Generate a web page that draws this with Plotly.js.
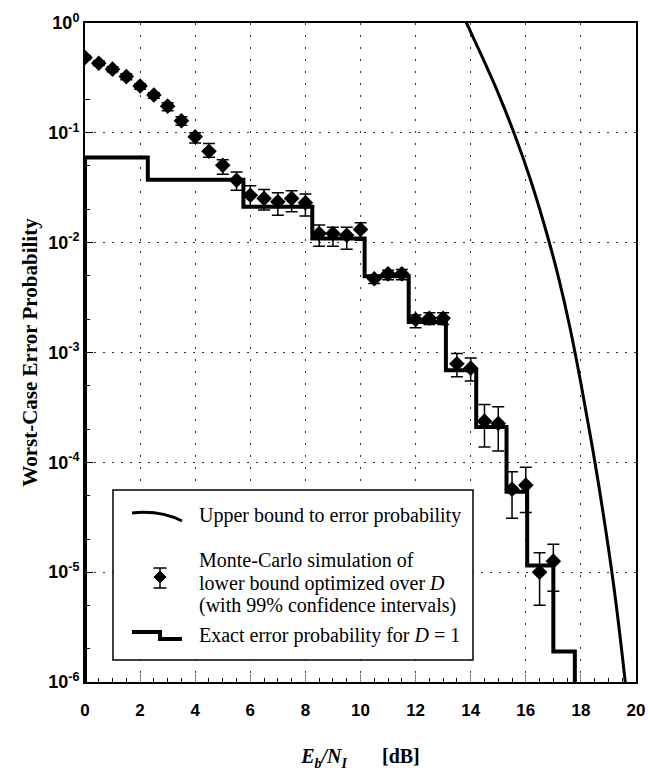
<!DOCTYPE html>
<html><head><meta charset="utf-8">
<script src="https://cdn.plot.ly/plotly-3.0.1.min.js"></script>
<style>html,body{margin:0;padding:0;background:#fff}#chart{width:648px;height:772px}</style>
</head><body><div id="chart"></div>
<script>
// Monte-Carlo simulation points (Eb/NI in dB) with 99% confidence bounds
const mcX  = [0,0.5,1,1.5,2,2.5,3,3.5,4,4.5,5,5.5,6,6.5,7,7.5,8,8.5,9,9.5,10,10.5,11,11.5,12,12.5,13,13.5,14,14.5,15,15.5,16,16.5,17];
const mcY  = [0.485,0.43,0.38,0.325,0.267,0.221,0.175,0.129,0.092,0.068,0.0506,0.037,0.027,0.0253,0.0236,0.0253,0.0231,0.0121,0.0121,0.0117,0.0132,0.0047,0.0052,0.0052,0.002,0.00205,0.00205,7.9e-4,7.2e-4,2.37e-4,2.26e-4,5.7e-5,6.2e-5,1.0e-5,1.26e-5];
const mcHi = [0.505,0.45,0.40,0.345,0.28,0.232,0.188,0.14,0.1,0.08,0.057,0.044,0.033,0.0305,0.0285,0.0297,0.0277,0.0145,0.0138,0.0138,0.0152,0.00505,0.0056,0.0057,0.00219,0.0023,0.0023,9.8e-4,8.9e-4,3.36e-4,3.2e-4,8.2e-5,9.0e-5,1.5e-5,1.8e-5];
const mcLo = [0.465,0.41,0.36,0.305,0.25,0.206,0.159,0.117,0.081,0.06,0.042,0.030,0.021,0.0198,0.0178,0.0191,0.0175,0.0093,0.0093,0.0087,0.0105,0.00425,0.0046,0.0046,0.00168,0.0018,0.0018,6.0e-4,5.5e-4,1.38e-4,1.27e-4,3.1e-5,3.5e-5,5.0e-6,6.7e-6];

// Exact error probability for D = 1 (staircase)
const stepX = [0,0,2.28,5.75,8.25,10.15,11.75,13.1,14.2,15.3,16.05,17.0,17.78];
const stepY = [1e-7,0.0595,0.0374,0.0212,0.0109,0.00494,0.0019,6.9e-4,2.1e-4,5.4e-5,1.15e-5,1.9e-6,1e-7];

// Upper bound to error probability
const ubX = [13.7,13.85,14.4,15.0,15.6,16.2,16.8,17.2,17.6,18.0,18.4,18.8,19.2,19.6,19.75];
const ubY = [1.2,1.0,0.501,0.229,0.0955,0.0355,0.0112,0.00468,0.0017,5.25e-4,1.45e-4,3.55e-5,7.24e-6,1.05e-6,4.5e-7];

const xTickVals = [0,2,4,6,8,10,12,14,16,18,20];
const yTickVals = [1,0.1,0.01,0.001,1e-4,1e-5,1e-6];
const yTickText = ['10<sup>0</sup>','10<sup>-1</sup>','10<sup>-2</sup>','10<sup>-3</sup>','10<sup>-4</sup>','10<sup>-5</sup>','10<sup>-6</sup>'];

const legendLines = ['Upper bound to error probability','Monte-Carlo simulation of','lower bound optimized over <i>D</i>','(with 99% confidence intervals)','Exact error probability for <i>D</i> = 1'];

// layout geometry (pixels)
const W = 648, H = 772, mL = 85, mR = 12, mT = 23, mB = 90;
const pw = W - mL - mR, ph = H - mT - mB;
const px = x => (x - mL) / pw;
const py = y => (H - mB - y) / ph;

const traces = [
  {x: ubX, y: ubY, mode: 'lines', line: {color: 'black', width: 3, shape: 'spline', smoothing: 1}, showlegend: false, hoverinfo: 'skip'},
  {x: stepX, y: stepY, mode: 'lines', line: {color: 'black', width: 4, shape: 'hv'}, showlegend: false},
  {x: mcX, y: mcY, mode: 'markers', marker: {symbol: 'diamond', size: 12, color: 'black'},
   error_y: {type: 'data', symmetric: false,
     array: mcHi.map((h, i) => h - mcY[i]),
     arrayminus: mcY.map((y, i) => y - mcLo[i]),
     color: 'black', thickness: 1.5, width: 6},
   showlegend: false}
];

const serif = 'Liberation Serif, Times New Roman, serif';
const sans = 'Liberation Sans, Arial, Helvetica, sans-serif';

const shapes = [
  {type: 'rect', xref: 'paper', yref: 'paper', x0: px(113), x1: px(473), y0: py(660), y1: py(490),
   line: {color: 'black', width: 1.5}, fillcolor: 'white', layer: 'above'},
  {type: 'path', xref: 'paper', yref: 'paper', layer: 'above', line: {color: 'black', width: 3},
   path: `M ${px(132)},${py(513)} Q ${px(160)},${py(510)} ${px(182)},${py(521)}`},
  {type: 'path', xref: 'paper', yref: 'paper', layer: 'above', line: {color: 'black', width: 1.5},
   path: `M ${px(160)},${py(568)} L ${px(160)},${py(588)} M ${px(153.5)},${py(568)} L ${px(166.5)},${py(568)} M ${px(153.5)},${py(588)} L ${px(166.5)},${py(588)}`},
  {type: 'path', xref: 'paper', yref: 'paper', layer: 'above', line: {color: 'black', width: 1}, fillcolor: 'black',
   path: `M ${px(160)},${py(571)} L ${px(166)},${py(577)} L ${px(160)},${py(583)} L ${px(154)},${py(577)} Z`},
  {type: 'path', xref: 'paper', yref: 'paper', layer: 'above', line: {color: 'black', width: 4},
   path: `M ${px(132)},${py(632)} L ${px(160)},${py(632)} L ${px(160)},${py(639)} L ${px(182)},${py(639)}`}
];

const legY = [515, 560, 583, 605, 635];
const annotations = legendLines.map((t, i) => ({
  xref: 'paper', yref: 'paper', x: px(197), y: py(legY[i]), xanchor: 'left', yanchor: 'middle',
  text: t, showarrow: false, font: {family: serif, size: 20, color: 'black'}
}));

const layout = {
  width: W, height: H,
  margin: {l: mL, r: mR, t: mT, b: mB, pad: 0},
  paper_bgcolor: 'white', plot_bgcolor: 'white',
  showlegend: false,
  xaxis: {
    range: [0, 20], tickvals: xTickVals, ticks: 'inside', ticklen: 8, tickcolor: '#888', tickwidth: 1,
    showline: true, linecolor: 'black', linewidth: 2, mirror: true,
    showgrid: true, gridcolor: '#333', gridwidth: 1, griddash: '2px,10px',
    zeroline: false, ticklabelstandoff: 12,
    tickfont: {family: sans, size: 17, color: 'black', weight: 'bold'},
    minor: {dtick: 0.5, ticks: 'inside', ticklen: 4, tickcolor: 'black', showgrid: false},
    title: {text: '<b><i>E</i><sub><i>b</i></sub><i>/N</i><sub><i>I</i></sub></b>&nbsp;&nbsp;&nbsp;&nbsp;&nbsp;&nbsp;&nbsp;<b>[dB]</b>',
      font: {family: serif, size: 20, color: 'black'}, standoff: 30}
  },
  yaxis: {
    type: 'log', range: [-6, 0], tickvals: yTickVals, ticktext: yTickText,
    ticks: 'inside', ticklen: 8, tickcolor: 'black', tickwidth: 1,
    showline: true, linecolor: 'black', linewidth: 2, mirror: true,
    showgrid: true, gridcolor: '#333', gridwidth: 1, griddash: '2px,7px',
    zeroline: false,
    tickfont: {family: sans, size: 18, color: 'black', weight: 'bold'},
    minor: {ticks: 'inside', ticklen: 5, tickcolor: 'black', showgrid: false},
    title: {text: '<b>Worst-Case Error Probability</b>', font: {family: serif, size: 21, color: 'black'}, standoff: 5}
  },
  shapes: shapes,
  annotations: annotations
};

Plotly.newPlot('chart', traces, layout, {staticPlot: true, displayModeBar: false});
</script>
</body></html>
